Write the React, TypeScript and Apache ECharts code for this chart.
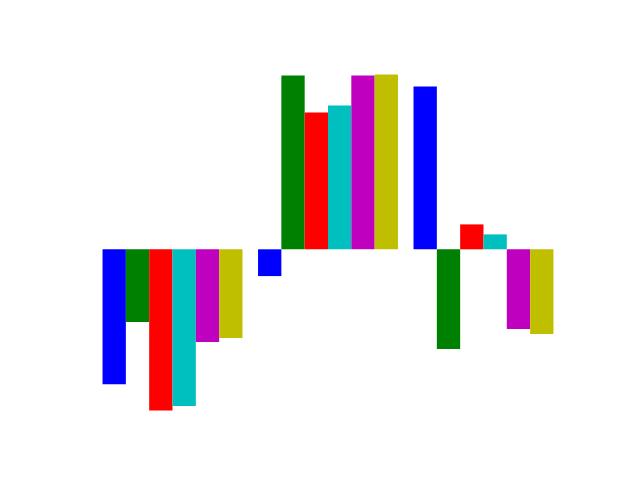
import React, { useEffect, useRef } from "react";
import * as echarts from "echarts";

const groups = [0, 1, 2];
const seriesNames = ["b", "g", "r", "c", "m", "y"];
const seriesColors = ["#0000ff", "#008000", "#ff0000", "#00bfbf", "#bf00bf", "#bfbf00"];
const blueValues = [-1.35, -0.268, 1.629];
const greenValues = [-0.728, 1.739, -0.998];
const redValues = [-1.611, 1.369, 0.249];
const cyanValues = [-1.568, 1.439, 0.149];
const magentaValues = [-0.928, 1.739, -0.798];
const yellowValues = [-0.888, 1.749, -0.848];
const allValues = [blueValues, greenValues, redValues, cyanValues, magentaValues, yellowValues];

const BAR_W = 0.15;

export default function App() {
  const ref = useRef<HTMLDivElement>(null);
  useEffect(() => {
    if (!ref.current) return;
    const chart = echarts.init(ref.current, null, { renderer: "svg" });
    const flat = allValues.flat();
    const yMinD = Math.min(0, ...flat);
    const yMaxD = Math.max(0, ...flat);
    const ym = (yMaxD - yMinD) * 0.05;
    const xMinD = groups[0] - BAR_W / 2;
    const xMaxD = groups[groups.length - 1] + (seriesNames.length - 1) * BAR_W + BAR_W / 2;
    const xm = (xMaxD - xMinD) * 0.05;
    const series = allValues.map((vals, k) => ({
      type: "custom",
      name: seriesNames[k],
      data: vals.map((v, i) => [groups[i] + k * BAR_W, v]),
      renderItem: (params: any, api: any) => {
        const x = api.value(0);
        const y = api.value(1);
        const p0 = api.coord([x - BAR_W / 2, 0]);
        const p1 = api.coord([x + BAR_W / 2, y]);
        return {
          type: "rect",
          shape: {
            x: Math.min(p0[0], p1[0]),
            y: Math.min(p0[1], p1[1]),
            width: Math.abs(p1[0] - p0[0]),
            height: Math.abs(p1[1] - p0[1]),
          },
          style: { fill: seriesColors[k] },
        };
      },
    }));
    chart.setOption({
      animation: false,
      backgroundColor: "#ffffff",
      grid: { left: 80, top: 57.6, width: 496, height: 369.6 },
      xAxis: { type: "value", min: xMinD - xm, max: xMaxD + xm, show: false },
      yAxis: { type: "value", min: yMinD - ym, max: yMaxD + ym, show: false },
      series,
    });
    return () => chart.dispose();
  }, []);
  return (
    <div
      ref={ref}
      style={{ position: "fixed", left: 0, top: 0, width: 640, height: 480 }}
    />
  );
}
